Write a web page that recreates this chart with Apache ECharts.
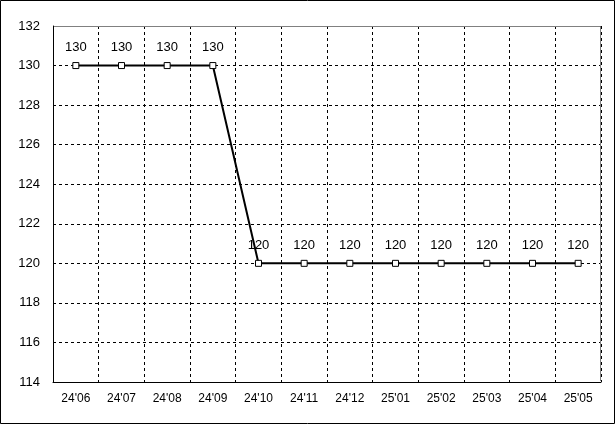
<!DOCTYPE html>
<html><head><meta charset="utf-8">
<script src="https://cdn.jsdelivr.net/npm/echarts@6/dist/echarts.min.js"></script>
<style>html,body{margin:0;padding:0;background:#fff}#c{width:615px;height:424px}</style>
</head><body><div id="c"></div>
<script>
const categories = ["24'06","24'07","24'08","24'09","24'10","24'11","24'12","25'01","25'02","25'03","25'04","25'05"];
const values = [130,130,130,130,120,120,120,120,120,120,120,120];
const yMin = 114, yMax = 132, yStep = 2;

const chart = echarts.init(document.getElementById('c'), null, {renderer:'canvas'});
const font = 'Liberation Sans, Arial, sans-serif';
chart.setOption({
  animation:false,
  backgroundColor:'#fff',
  graphic:[
    {type:'rect', shape:{x:0.5,y:0.5,width:614,height:423}, style:{fill:'none',stroke:'#000',lineWidth:1}, z:100},
    {type:'polyline', shape:{points:[[54,26.5],[600.5,26.5],[600.5,381]]}, style:{fill:'none',stroke:'#808080',lineWidth:1}, z:50}
  ],
  grid:{left:53, right:14, top:26, bottom:42, containLabel:false},
  xAxis:{
    type:'category', data:categories, boundaryGap:true,
    axisLine:{lineStyle:{color:'#000',width:1}},
    axisTick:{show:false},
    axisLabel:{color:'#000', fontSize:12, fontFamily:font, margin:11},
    splitLine:{show:true, lineStyle:{color:'#000', type:[3,3], width:1}}
  },
  yAxis:{
    type:'value', min:yMin, max:yMax, interval:yStep,
    axisLine:{show:true, lineStyle:{color:'#000',width:1}},
    axisTick:{show:false},
    axisLabel:{color:'#000', fontSize:13, fontFamily:font, margin:13},
    splitLine:{show:true, lineStyle:{color:'#000', type:[3,3], width:1}}
  },
  series:[{
    type:'line', data:values,
    symbol:'rect', symbolSize:6,
    itemStyle:{color:'#fff', borderColor:'#000', borderWidth:1},
    lineStyle:{color:'#000', width:2},
    label:{show:true, position:'top', distance:8, color:'#000', fontSize:13, fontFamily:font},
    z:10
  }]
});
</script></body></html>
